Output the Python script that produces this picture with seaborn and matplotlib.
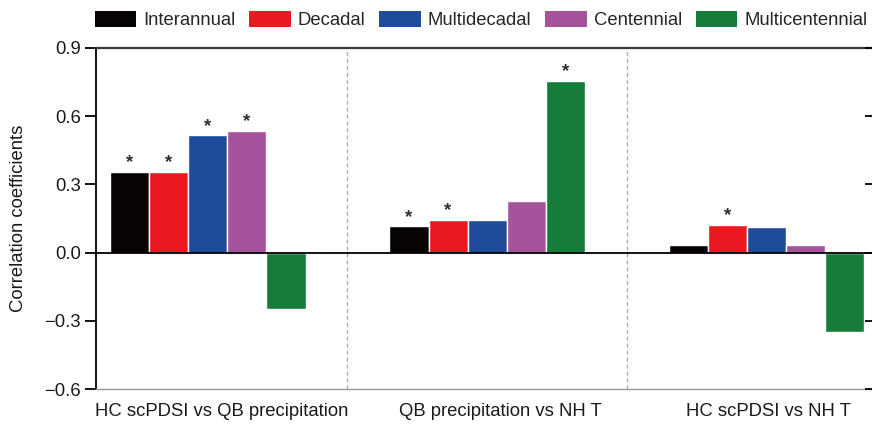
import matplotlib
matplotlib.use("Agg")
import matplotlib.pyplot as plt
import seaborn as sns
import pandas as pd
from matplotlib.patches import Patch
from matplotlib.ticker import FuncFormatter

# ---------------- data ----------------
groups = ["HC scPDSI vs QB precipitation", "QB precipitation vs NH T", "HC scPDSI vs NH T"]
scales = ["Interannual", "Decadal", "Multidecadal", "Centennial", "Multicentennial"]
interannual = [0.355, 0.116, 0.034]
decadal = [0.355, 0.145, 0.122]
multidecadal = [0.516, 0.145, 0.114]
centennial = [0.535, 0.226, 0.033]
multicentennial = [-0.246, 0.755, -0.351]
sig_interannual = [True, True, False]
sig_decadal = [True, True, True]
sig_multidecadal = [True, False, False]
sig_centennial = [True, False, False]
sig_multicentennial = [False, True, False]
yticks = [-0.6, -0.3, 0.0, 0.3, 0.6, 0.9]
colors = ["#070303", "#e8191f", "#1e4b9c", "#a6539c", "#157c3a"]

values = [interannual, decadal, multidecadal, centennial, multicentennial]
sigs = [sig_interannual, sig_decadal, sig_multidecadal, sig_centennial, sig_multicentennial]
rows = []
for s, vals in zip(scales, values):
    for g, v in zip(groups, vals):
        rows.append({"group": g, "scale": s, "r": v})
df = pd.DataFrame(rows)

# ---------------- style ----------------
sns.set_theme(style="white")
plt.rcParams["font.family"] = ["Liberation Sans", "DejaVu Sans"]
FS = 13.3

fig = plt.figure(figsize=(8.72, 4.25), dpi=100)
ax = fig.add_axes([96 / 872, 1 - 389 / 425, 776 / 872, (389 - 48) / 425])

sns.barplot(data=df, x="group", y="r", hue="scale", order=groups, hue_order=scales,
            palette=colors, saturation=1, width=0.7, edgecolor="white", linewidth=1.0,
            errorbar=None, legend=False, ax=ax, zorder=3)

ax.set_xlim(-0.4, 2.377)
ax.set_ylim(-0.6, 0.9)
ax.set_yticks(yticks)
ax.yaxis.set_major_formatter(FuncFormatter(lambda v, p: f"{v:.1f}".replace("-", "\u2212")))

# significance stars
for cont, sg in zip(ax.containers, sigs):
    for bar, flag in zip(cont, sg):
        if flag:
            x = bar.get_x() + bar.get_width() / 2
            h = bar.get_height()
            ax.annotate("*", (x, h), xytext=(0, 6.5), textcoords="offset points",
                        ha="center", va="center", fontsize=13.5, color="#2e2e2e",
                        fontweight="semibold")

# zero line and separators
ax.axhline(0, color="black", lw=1.3, zorder=4)
for xs in [0.5, 1.5]:
    ax.axvline(xs, color="#b0b0b0", lw=1.0, ls=(0, (3, 2)), zorder=1)

# spines
ax.spines["left"].set_color("black")
ax.spines["left"].set_linewidth(1.3)
ax.spines["top"].set_color("#3a3a3a")
ax.spines["top"].set_linewidth(1.6)
ax.spines["bottom"].set_color("#9a9a9a")
ax.spines["bottom"].set_linewidth(1.0)
ax.spines["right"].set_visible(False)

ax.tick_params(axis="y", which="both", left=True, direction="out", length=8, width=1.3,
               pad=3, labelsize=FS, colors="black", labelcolor="#1a1a1a")
ax.set_xticks([0.048, 1.048, 2.005])
ax.set_xticklabels(groups)
ax.tick_params(axis="x", length=0, pad=10, labelsize=FS, labelcolor="#1a1a1a")
ax.set_xlabel("")
ax.set_ylabel("Correlation coefficients", fontsize=FS, color="#1a1a1a")
ax.yaxis.set_label_coords(-0.089, 0.5)

# right-side inward ticks
ax2 = ax.twinx()
ax2.set_ylim(ax.get_ylim())
ax2.set_yticks(yticks)
ax2.tick_params(axis="y", right=True, direction="in", length=5, width=1.3,
                labelright=False, colors="black")
for sp in ax2.spines.values():
    sp.set_visible(False)

# legend
handles = [Patch(facecolor=c, edgecolor="none", label=s) for s, c in zip(scales, colors)]
fig.legend(handles=handles, loc="center", ncol=5,
           bbox_to_anchor=((94 + 868) / 2 / 872, 1 - 20 / 425),
           frameon=False, fontsize=FS, handlelength=2.25, handleheight=1.0,
           handletextpad=0.37, columnspacing=0.75, borderpad=0, borderaxespad=0)

fig.savefig("out.png", dpi=100)
